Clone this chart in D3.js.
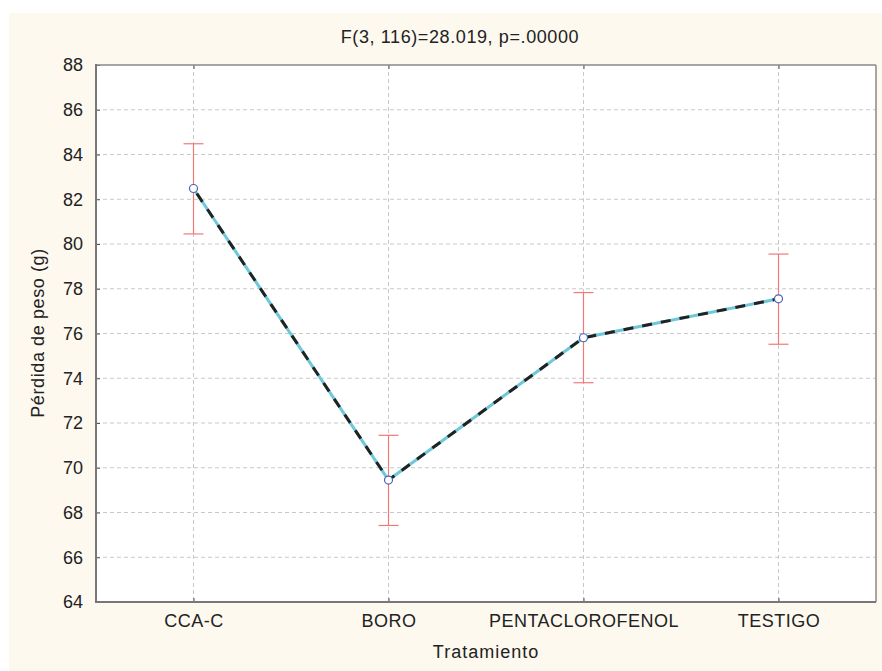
<!DOCTYPE html>
<html><head><meta charset="utf-8">
<script src="https://cdn.jsdelivr.net/npm/d3@7"></script>
<style>body{margin:0;background:#fff}svg{display:block;font-family:"Liberation Sans",Arial,sans-serif}</style>
</head><body><svg id="c" width="882" height="671"></svg>
<script>
const categories = ["CCA-C","BORO","PENTACLOROFENOL","TESTIGO"];
const means = [82.48, 69.45, 75.81, 77.55];
const lower = [80.45, 67.42, 73.80, 75.52];
const upper = [84.48, 71.45, 77.83, 79.55];
const yTicks = [64,66,68,70,72,74,76,78,80,82,84,86,88];
const title = "F(3, 116)=28.019, p=.00000";
const xTitle = "Tratamiento";
const yTitle = "Pérdida de peso (g)";

const FF = "'Liberation Sans', Arial, sans-serif";
const svg = d3.select("#c");
svg.append("rect").attr("x",9).attr("y",13).attr("width",873).attr("height",658).attr("fill","#fdf9ef");
const L=96,T=65,R=876,B=602;
svg.append("rect").attr("x",L).attr("y",T).attr("width",R-L).attr("height",B-T).attr("fill","#fff");
const x = d3.scalePoint().domain(categories).range([L,R]).padding(0.5);
const y = d3.scaleLinear().domain([64,88]).range([B,T]);

const g = svg.append("g");
g.selectAll(".hg").data(yTicks.filter(v=>v>64&&v<88)).join("line")
 .attr("x1",L).attr("x2",R).attr("y1",d=>y(d)).attr("y2",d=>y(d))
 .attr("stroke","#c8c8c8").attr("stroke-dasharray","4,3");
g.selectAll(".vg").data(categories).join("line")
 .attr("x1",d=>x(d)).attr("x2",d=>x(d)).attr("y1",T).attr("y2",B)
 .attr("stroke","#c8c8c8").attr("stroke-dasharray","4,3");

// axes
const ya = svg.append("g").attr("transform",`translate(${L},0)`)
 .call(d3.axisLeft(y).tickValues(yTicks).tickSize(-4).tickPadding(13));
ya.select(".domain").remove();
ya.selectAll("text").attr("font-size",18).attr("fill","#222").attr("font-family",FF);
ya.selectAll("line").attr("stroke","#555");
const xa = svg.append("g").attr("transform",`translate(0,${B})`)
 .call(d3.axisBottom(x).tickSize(-4).tickPadding(12));
xa.select(".domain").remove();
xa.selectAll("text").attr("font-size",18).attr("fill","#222").attr("letter-spacing","0.5px").attr("font-family",FF);
xa.selectAll("line").attr("stroke","#555");
const xt = svg.append("g").attr("transform",`translate(0,${T})`)
 .call(d3.axisTop(x).tickSize(-4).tickFormat(""));
xt.select(".domain").remove(); xt.selectAll("line").attr("stroke","#555");

// frame
svg.append("line").attr("x1",L).attr("x2",R).attr("y1",T).attr("y2",T).attr("stroke","#888").attr("stroke-width",1.5);
svg.append("line").attr("x1",R).attr("x2",R).attr("y1",T).attr("y2",B).attr("stroke","#888").attr("stroke-width",1.5);
svg.append("line").attr("x1",L).attr("x2",L).attr("y1",T-1).attr("y2",B+1).attr("stroke","#777").attr("stroke-width",2);
svg.append("line").attr("x1",L-1).attr("x2",R).attr("y1",B).attr("y2",B).attr("stroke","#777").attr("stroke-width",2);

// error bars
const eb = svg.append("g").attr("stroke","#f27878").attr("stroke-width",1.2);
categories.forEach((c,i)=>{
  eb.append("line").attr("x1",x(c)).attr("x2",x(c)).attr("y1",y(lower[i])).attr("y2",y(upper[i]));
  eb.append("line").attr("x1",x(c)-10).attr("x2",x(c)+10).attr("y1",y(lower[i])).attr("y2",y(lower[i]));
  eb.append("line").attr("x1",x(c)-10).attr("x2",x(c)+10).attr("y1",y(upper[i])).attr("y2",y(upper[i]));
});

// line
const pts = categories.map((c,i)=>[x(c),y(means[i])]);
const line = d3.line();
svg.append("path").attr("d",line(pts)).attr("fill","none").attr("stroke","#6cc8da").attr("stroke-width",3);
svg.append("path").attr("d",line(pts)).attr("fill","none").attr("stroke","#222").attr("stroke-width",3).attr("stroke-dasharray","10,9").attr("stroke-dashoffset",-6);
svg.selectAll(".pt").data(pts).join("circle").attr("cx",d=>d[0]).attr("cy",d=>d[1]).attr("r",4)
 .attr("fill","#fff").attr("stroke","#4a62b8").attr("stroke-width",1.2);

// titles
svg.append("text").attr("x",460).attr("y",43).attr("text-anchor","middle").attr("font-size",18).attr("letter-spacing","0.6px").attr("fill","#222").attr("font-family",FF).text(title);
svg.append("text").attr("x",486).attr("y",658).attr("text-anchor","middle").attr("font-size",18).attr("letter-spacing","1px").attr("fill","#222").attr("font-family",FF).text(xTitle);
svg.append("text").attr("transform","translate(44,333) rotate(-90)").attr("text-anchor","middle").attr("font-size",18).attr("letter-spacing","0.6px").attr("fill","#222").attr("font-family",FF).text(yTitle);
</script></body></html>
